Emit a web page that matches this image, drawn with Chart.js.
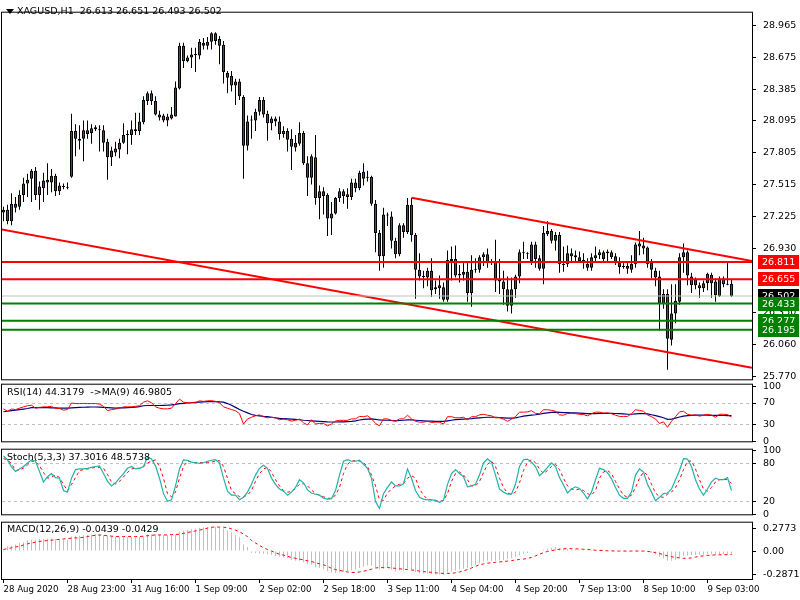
<!DOCTYPE html>
<html>
<head>
<meta charset="utf-8">
<script src="https://cdn.jsdelivr.net/npm/chart.js@4.4.0/dist/chart.umd.min.js"></script>
<style>
body{margin:0;background:#fff;width:800px;height:600px;overflow:hidden;position:relative}
canvas{position:absolute;left:0}
.ttl{position:absolute;left:7px;font:9.5px 'DejaVu Sans',sans-serif;color:#000;white-space:pre;line-height:12px}
.tri{position:absolute;left:6px;top:9px;width:0;height:0;border-left:4px solid transparent;border-right:4px solid transparent;border-top:5px solid #000}
</style>
</head>
<body>
<canvas id="main" width="800" height="392" style="top:0"></canvas>
<canvas id="rsi" width="800" height="82" style="top:372px"></canvas>
<canvas id="stoch" width="800" height="90" style="top:437px"></canvas>
<canvas id="macd" width="800" height="90" style="top:510px"></canvas>
<div class="tri"></div>
<div class="ttl" style="left:17px;top:5px">XAGUSD,H1  26.613 26.651 26.493 26.502</div>
<div class="ttl" style="top:386px">RSI(14) 44.3179  -&gt;MA(9) 46.9805</div>
<div class="ttl" style="top:451px">Stoch(5,3,3) 37.3016 48.5738</div>
<div class="ttl" style="top:523px">MACD(12,26,9) -0.0439 -0.0429</div>
<script>
// XAGUSD H1 candles, 183 bars
const open = [27.261,27.288,27.182,27.305,27.314,27.420,27.526,27.570,27.641,27.420,
27.482,27.561,27.535,27.597,27.455,27.499,27.491,27.588,28.003,27.932,
27.932,28.011,27.985,28.038,28.020,28.011,27.906,27.764,27.808,27.835,
27.897,27.967,27.967,28.003,28.003,28.082,28.276,28.347,28.276,28.153,
28.144,28.100,28.117,28.135,28.391,28.779,28.638,28.673,28.696,28.691,
28.806,28.779,28.815,28.894,28.841,28.788,28.532,28.506,28.417,28.453,
28.312,27.870,28.100,28.100,28.179,28.285,28.161,28.073,28.117,28.091,
27.976,28.003,27.932,27.853,27.888,27.985,27.711,27.579,27.764,27.394,
27.455,27.420,27.208,27.252,27.394,27.455,27.429,27.402,27.535,27.482,
27.632,27.588,27.588,27.341,27.076,26.864,27.235,27.226,27.005,26.882,
27.146,27.085,27.332,27.058,26.741,26.679,26.670,26.732,26.564,26.599,
26.582,26.467,26.820,26.838,26.705,26.696,26.723,26.529,26.741,26.741,
26.855,26.882,26.811,26.811,26.652,26.635,26.564,26.414,26.564,26.679,
26.891,26.891,26.820,26.970,26.846,26.749,27.067,27.093,27.005,27.058,
26.794,26.794,26.891,26.873,26.855,26.829,26.794,26.758,26.846,26.873,
26.899,26.891,26.899,26.864,26.802,26.776,26.776,26.741,26.794,26.952,
26.961,26.943,26.802,26.732,26.679,26.432,26.520,26.105,26.343,26.449,
26.855,26.899,26.679,26.599,26.599,26.573,26.617,26.696,26.635,26.502,
26.661,26.608,26.613];
const high = [27.314,27.332,27.438,27.402,27.464,27.579,27.614,27.658,27.676,27.544,
27.623,27.711,27.658,27.614,27.535,27.526,27.535,28.161,28.064,28.056,
28.100,28.100,28.064,28.056,28.056,28.056,27.932,27.861,27.906,27.932,
28.073,28.011,28.100,28.170,28.170,28.320,28.364,28.373,28.320,28.188,
28.161,28.161,28.223,28.453,28.806,28.806,28.691,28.762,28.762,28.841,
28.850,28.859,28.903,28.903,28.868,28.823,28.550,28.550,28.479,28.479,
28.329,28.144,28.144,28.206,28.312,28.312,28.188,28.135,28.135,28.135,
28.047,28.029,28.020,27.967,28.082,28.003,27.773,27.791,27.967,27.508,
27.491,27.438,27.358,27.402,27.482,27.473,27.482,27.570,27.570,27.641,
27.711,27.641,27.597,27.376,27.102,27.305,27.261,27.270,27.032,27.164,
27.164,27.394,27.394,27.076,26.891,26.732,26.758,26.846,26.643,26.688,
26.626,26.917,26.952,26.961,26.785,26.820,26.802,26.873,26.846,26.873,
26.899,26.935,26.838,27.014,26.838,26.732,26.679,26.670,26.696,26.926,
26.996,26.899,26.996,26.996,26.873,27.138,27.182,27.111,27.085,27.085,
26.952,26.961,26.935,26.917,26.908,26.891,26.846,26.891,26.952,26.926,
26.917,26.926,26.917,26.891,26.855,26.811,26.811,26.873,26.988,27.093,
27.032,26.952,26.838,26.758,26.732,26.564,26.564,26.608,26.608,26.891,
26.979,26.917,26.714,26.670,26.626,26.643,26.714,26.714,26.661,26.679,
26.679,26.811,26.651];
const low = [27.182,27.155,27.146,27.261,27.288,27.358,27.402,27.358,27.376,27.288,
27.358,27.420,27.447,27.411,27.420,27.473,27.473,27.579,27.773,27.835,
27.729,27.932,27.888,28.003,27.817,27.817,27.561,27.685,27.773,27.755,
27.888,27.791,27.879,27.967,27.967,28.064,28.241,28.241,28.144,28.100,
28.082,28.047,28.109,28.135,28.382,28.576,28.629,28.576,28.541,28.656,
28.744,28.744,28.744,28.788,28.612,28.435,28.347,28.364,28.241,28.285,
27.570,27.826,27.932,28.003,28.144,28.126,27.914,28.011,28.047,27.923,
27.941,27.817,27.649,27.817,27.870,27.694,27.411,27.517,27.332,27.200,
27.244,27.049,27.058,27.244,27.358,27.341,27.297,27.376,27.447,27.464,
27.508,27.544,27.323,26.899,26.732,26.758,27.138,26.935,26.846,26.864,
27.032,27.067,26.996,26.476,26.643,26.573,26.590,26.493,26.520,26.476,
26.449,26.449,26.643,26.670,26.626,26.643,26.449,26.405,26.714,26.714,
26.776,26.758,26.785,26.538,26.520,26.423,26.361,26.343,26.485,26.617,
26.838,26.838,26.785,26.758,26.732,26.608,27.049,26.979,26.917,26.714,
26.723,26.767,26.811,26.820,26.802,26.749,26.732,26.732,26.802,26.838,
26.802,26.820,26.838,26.785,26.705,26.749,26.705,26.714,26.758,26.873,
26.882,26.758,26.661,26.590,26.185,26.387,25.831,26.052,26.255,26.423,
26.714,26.599,26.529,26.564,26.485,26.538,26.555,26.485,26.449,26.493,
26.582,26.599,26.493];
const close = [27.288,27.182,27.341,27.341,27.420,27.526,27.561,27.641,27.420,27.499,
27.552,27.535,27.597,27.455,27.508,27.495,27.486,28.003,27.932,27.914,
28.011,27.976,28.029,28.020,28.011,27.897,27.764,27.826,27.844,27.897,
27.967,27.976,28.020,28.020,28.091,28.285,28.347,28.276,28.153,28.126,
28.100,28.135,28.153,28.400,28.779,28.638,28.673,28.700,28.700,28.815,
28.779,28.815,28.894,28.823,28.779,28.541,28.488,28.417,28.453,28.320,
27.870,28.091,28.109,28.179,28.285,28.153,28.073,28.117,28.091,27.976,
28.003,27.923,27.861,27.897,27.985,27.711,27.579,27.773,27.394,27.455,
27.411,27.208,27.252,27.394,27.455,27.411,27.402,27.535,27.482,27.623,
27.570,27.579,27.341,27.076,26.864,27.244,27.244,27.005,26.882,27.146,
27.085,27.332,27.058,26.741,26.679,26.674,26.732,26.555,26.582,26.573,
26.467,26.829,26.838,26.688,26.688,26.723,26.529,26.741,26.745,26.855,
26.882,26.802,26.802,26.643,26.635,26.564,26.414,26.564,26.679,26.899,
26.899,26.886,26.970,26.838,26.749,27.076,27.093,27.005,27.058,26.794,
26.785,26.891,26.864,26.855,26.820,26.802,26.758,26.855,26.873,26.899,
26.838,26.908,26.855,26.802,26.767,26.767,26.749,26.794,26.970,26.979,
26.935,26.794,26.741,26.670,26.432,26.520,26.114,26.343,26.458,26.855,
26.899,26.688,26.599,26.652,26.573,26.617,26.705,26.617,26.511,26.661,
26.608,26.604,26.502];

// indicators
const rsi = [59.4,55,59,58,60.5,63,65,66,60.5,62,
63,63,64,60,60,57,58,70,69,69,
69.4,69,69,69,68,64,56,58,59,60.5,
63,63,63,64,65,71.6,74,70.5,63,60.5,
59.4,59.4,60.5,69,77,71.6,70.5,70.5,70.5,74,
73,74,74.4,73,70.5,63,60.5,58,56,50.5,
31.6,41,44,46.6,48.3,45,43,44,43,39.4,
40.5,39.4,37,38.3,40.5,33.8,30,39.4,31.6,32.7,
32.7,28.3,31.6,37,38.3,38.3,38.3,41,41,45.5,
45,46.6,41,32.7,28.3,41,41,38.3,36.6,41,
41,47.7,41,36.6,35,35,36.6,34.4,35,35,
31.6,45,45,43,43,44,39.4,45,45,48.3,
49.4,47.7,46.6,43,43,40.5,36.6,40.5,45,53.3,
53.3,53.8,56,51,50.5,57.7,57.7,56.6,55,48.3,
47.7,51,51,50.5,49.4,48.9,46.6,50.5,53.3,53.3,
51.6,52,50.5,47.7,45.5,45.5,45.5,50.5,57.7,56.6,
55,48.3,45,41,32.7,35.5,25.5,36.6,45,53.8,
55,49.4,47.7,48.3,46,47.7,49.4,47.7,44,49.4,
49.4,48.9,44.3];
const rsiMa = [54,55,56,57,58,59,60,61.5,61.5,61.5,
61.5,61.5,61.2,61,60.7,60.5,60.5,61,61.5,62,
62.3,62.5,62.7,62.7,62.5,62,61.5,61,60.5,61,
61.3,61.6,62,62.5,63.5,65,65.5,65.5,65.5,65.5,
65.8,66,66.5,67.5,69,69.5,70,70.5,71,71.5,
72,72.5,72.7,72.5,72,71.5,69,66,62,58,
55,52,49,47.5,46.5,45.5,45,44,43,42,
41.5,41,40.5,40,39.4,38.5,38,37.5,37,36.5,
36,35.5,35.3,35.3,35.5,35.5,35.8,36.5,37.5,39,
40,40.5,41,40,39,38.5,38.5,38,37.5,38,
38.5,39,39,38.5,38,37.5,37,36.8,36.6,36.5,
36.5,37.5,38.5,39.5,40,40.5,41,41.5,42.5,43,
43.5,44,44,44,43.5,43,42.5,42.5,43,44.5,
46,47,48,48.5,49.5,51,52,53,53.5,53,
52.5,52.5,52,52,51.5,51,50.5,50.5,50.5,51,
51,51,51,50.8,50.5,50,49.5,49.5,50,50.5,
50.5,50,48.5,47,45,43,40,40.5,42.5,44.5,
46,47,47.5,47.7,47.7,47.7,47.7,47.5,47.5,47.3,
47.2,47,47];
const stochMain = [92,86,75,67.7,71.6,75.5,81,86,83.8,67.7,
51,59.4,64.3,58,57,37.5,35,57,70.6,71.6,
71.6,72.6,74,75.5,76.5,64.3,52,44.8,49.7,57,
64.3,72.6,75.5,71.6,72.6,75.5,90,87.2,76.5,57,
32.6,20.5,22.9,44.8,71.6,86,85.3,82.3,81.4,80.4,
81.4,83.8,85.3,86.2,81.4,57,36.5,30.2,30.2,22.9,
26.8,35,47.3,61.9,72.6,77.5,72.6,57,47.3,40,
36.5,30.2,35,42.4,54.6,49.7,38.5,33.6,31.7,30.2,
25.3,23.9,24.8,37.5,61.9,83.8,86.2,83.8,83.8,85.3,
79,72.6,57,20,9.2,32.6,42.4,51.2,44.8,44.8,
48.2,71.6,57,37.5,26.8,23.9,22.9,22.9,21.9,19,
21.9,47.3,64.3,70.6,64.3,59.4,43.4,44.8,47.3,61.9,
81.4,87.7,82.3,61.9,40,35,31.7,31.7,47.3,75.5,
86.2,87.2,82.3,75.5,60.9,66.8,74.1,81.4,75.5,58,
46.3,33.6,40,43.4,40.9,33.6,24.4,35,54.6,72.6,
70.6,65.8,56,42.4,30.2,25.3,25.3,35,61.9,71.6,
66.8,47.3,35,21.4,26.8,32.6,33.6,40,54.6,69.2,
87.7,87.2,75.5,54.6,40,30.2,40,51.2,57,54.6,
54.6,58,37.3];
const stochSignal = [88,86,80,69,70,73,78,84,83,76.5,
66,57,59,62,58,47,37.5,47,58,69,
70.5,71.6,73,74,74,72.6,63,51,48,52,
59,66,71.6,73,72.6,75,81,84,86,75.5,
57,32.6,27.8,35,57,75.5,84,83,81.4,81.5,
81.5,82,82.3,84,84.8,75.5,57,37.5,32.6,27.8,
27.8,30.2,37.5,52,64.3,71.6,74,66.8,54.6,44.8,
37.5,35,36,40.9,47.3,48.2,44.8,38.5,32.6,30.2,
27.8,25.3,25.3,30.2,42.4,64.3,79,84,84.8,84,
81.4,75.5,62,45,23,22,33.6,40,44.8,47.3,
48.2,57,60.9,57,40,30.2,23.9,22.9,21.9,20.5,
21.9,32.6,52,64.3,66.8,61.9,54.6,44.8,44.8,52,
65.8,79,84,75.5,57,42.4,33.6,31.7,35,49.7,
69.2,82.3,86.2,81.4,71.6,64.3,69.2,75.5,79,70.6,
57,44.8,40,38.5,40,37.5,32.6,30.2,37.5,57,
66.8,69.2,64.3,52,40,30.2,26.8,30.2,42.4,57,
66.8,61.9,47.3,33.6,27.8,26.8,31.7,35,42.4,54.6,
70.6,84,84,71.6,54.6,40,36.5,42.4,51.2,54.6,
55.5,54.6,48.6];
const macdMain = [0.02,0.06,0.065,0.08,0.1,0.11,0.13,0.14,0.14,0.145,
0.15,0.155,0.155,0.15,0.145,0.14,0.14,0.18,0.19,0.19,
0.2,0.2,0.205,0.21,0.21,0.2,0.19,0.185,0.18,0.175,
0.17,0.17,0.17,0.17,0.175,0.185,0.21,0.21,0.21,0.205,
0.2,0.2,0.2,0.21,0.24,0.255,0.26,0.27,0.28,0.29,
0.295,0.296,0.3,0.3,0.29,0.28,0.255,0.23,0.2,0.17,
0.08,0.05,-0.02,-0.025,-0.03,-0.035,-0.04,-0.05,-0.06,-0.07,
-0.08,-0.09,-0.11,-0.12,-0.12,-0.14,-0.16,-0.17,-0.2,-0.21,
-0.225,-0.25,-0.27,-0.275,-0.27,-0.26,-0.25,-0.235,-0.225,-0.21,
-0.195,-0.18,-0.18,-0.2,-0.23,-0.22,-0.21,-0.23,-0.25,-0.24,
-0.24,-0.22,-0.23,-0.26,-0.275,-0.28,-0.28,-0.285,-0.29,-0.29,
-0.296,-0.27,-0.255,-0.24,-0.23,-0.22,-0.21,-0.19,-0.17,-0.15,
-0.13,-0.12,-0.12,-0.12,-0.115,-0.11,-0.1,-0.09,-0.07,-0.05,
-0.035,-0.025,-0.01,-0.005,0,0.015,0.03,0.04,0.05,0.035,
0.03,0.025,0.02,0.02,0.015,0.01,0.005,0.005,0.005,0.005,
0.003,0.005,0.002,0,0,-0.002,-0.003,0,0.005,0.005,
0,-0.01,-0.02,-0.04,-0.07,-0.09,-0.12,-0.12,-0.11,-0.08,
-0.06,-0.055,-0.05,-0.05,-0.045,-0.045,-0.04,-0.04,-0.045,-0.04,
-0.04,-0.04,-0.0439];
const macdSignal = [0.02,0.03,0.04,0.05,0.06,0.075,0.09,0.1,0.11,0.12,
0.125,0.13,0.135,0.14,0.146,0.15,0.155,0.16,0.163,0.166,
0.17,0.18,0.19,0.195,0.2,0.195,0.19,0.185,0.18,0.18,
0.18,0.18,0.18,0.18,0.18,0.185,0.19,0.195,0.2,0.2,
0.2,0.2,0.205,0.205,0.21,0.22,0.23,0.24,0.25,0.26,
0.27,0.285,0.296,0.298,0.298,0.296,0.29,0.275,0.26,0.24,
0.21,0.18,0.13,0.1,0.07,0.04,0.02,0,-0.02,-0.04,
-0.05,-0.065,-0.08,-0.09,-0.1,-0.11,-0.12,-0.13,-0.145,-0.158,
-0.17,-0.19,-0.215,-0.23,-0.24,-0.25,-0.26,-0.265,-0.265,-0.26,
-0.25,-0.24,-0.225,-0.21,-0.205,-0.205,-0.205,-0.21,-0.215,-0.22,
-0.225,-0.23,-0.235,-0.24,-0.25,-0.255,-0.26,-0.265,-0.27,-0.275,
-0.278,-0.278,-0.276,-0.27,-0.26,-0.245,-0.23,-0.21,-0.19,-0.17,
-0.16,-0.15,-0.145,-0.14,-0.135,-0.13,-0.125,-0.12,-0.11,-0.105,
-0.1,-0.09,-0.08,-0.06,-0.04,-0.02,-0.005,0.005,0.015,0.022,
0.028,0.03,0.03,0.028,0.025,0.022,0.02,0.015,0.01,0.008,
0.005,0.003,0.002,0,0,0,0,0,0,0,
0,-0.005,-0.01,-0.02,-0.03,-0.045,-0.06,-0.07,-0.08,-0.085,
-0.09,-0.09,-0.085,-0.075,-0.065,-0.06,-0.055,-0.05,-0.048,-0.046,
-0.045,-0.044,-0.0429];

// levels and drawn objects
const redLevels = [26.811, 26.655];
const greenLevels = [26.433, 26.277, 26.195];
const bidPrice = 26.502;
const upperTrend = [[102, 27.396], [187.1, 26.820]];
const lowerTrend = [[-0.9, 27.111], [187.1, 25.850]];

// axes
const xTickLabels = ['28 Aug 2020','28 Aug 23:00','31 Aug 16:00','1 Sep 09:00','2 Sep 02:00','2 Sep 18:00',
  '3 Sep 11:00','4 Sep 04:00','4 Sep 20:00','7 Sep 13:00','8 Sep 10:00','9 Sep 03:00'];
const priceTicks = [25.770, 26.060, 26.350, 26.930, 27.225, 27.515, 27.805, 28.095, 28.385, 28.675, 28.965];
const rsiTicks = [0, 30, 70, 100];
const stochTicks = [0, 20, 80, 100];
const macdTicks = [-0.2871, 0, 0.2773];

const X_MIN = -0.375, X_MAX = 187.125;
const font = {family: "'DejaVu Sans', sans-serif", size: 9.5};
const xFont = {family: "'DejaVu Sans', sans-serif", size: 8.6};
const GREEN = '#008000', RED = '#ff0000';

const frame = {
  id: 'frame',
  afterDraw(chart) {
    const {ctx, chartArea: a} = chart;
    ctx.save();
    ctx.strokeStyle = '#000';
    ctx.lineWidth = 1;
    ctx.strokeRect(a.left - 0.5, a.top - 0.5, a.right - a.left + 1, a.bottom - a.top + 1);
    ctx.restore();
  }
};

const priceTags = [{v: bidPrice, c: '#000'}]
  .concat(redLevels.map(v => ({v, c: RED})))
  .concat(greenLevels.map(v => ({v, c: GREEN})));

const tags = {
  id: 'tags',
  afterDraw(chart) {
    const {ctx, chartArea: a} = chart;
    const s = chart.scales.y;
    ctx.save();
    ctx.font = font.size + 'px ' + font.family;
    ctx.textBaseline = 'middle';
    priceTags.forEach(t => {
      const py = Math.round(s.getPixelForValue(t.v));
      ctx.fillStyle = t.c;
      ctx.fillRect(a.right + 6, py - 7, 41, 14);
      ctx.fillStyle = '#fff';
      ctx.fillText(t.v.toFixed(3), a.right + 10, py + 0.5);
    });
    ctx.restore();
  }
};

function xAxis(show) {
  const ax = {type: 'linear', min: X_MIN, max: X_MAX, offset: false, display: show};
  if (!show) return ax;
  return Object.assign(ax, {
    afterBuildTicks: s => { s.ticks = xTickLabels.map((t, k) => ({value: k * 16})); },
    afterFit: s => { s.height = 21; },
    grid: {drawOnChartArea: false, offset: false, tickLength: 4, color: '#000'},
    border: {display: false},
    ticks: {align: 'start', padding: 2, maxRotation: 0, autoSkip: false, color: '#000', font: xFont,
      callback: v => xTickLabels[v / 16]}
  });
}

function yAxis(min, max, tickVals, fmt, levels) {
  return {
    position: 'right', min, max,
    afterBuildTicks: s => { s.ticks = tickVals.map(v => ({value: v})); },
    afterFit: s => { s.width = 48; },
    grid: {
      drawOnChartArea: !!levels, tickLength: 4, tickColor: '#000',
      color: c => (levels && c.tick && levels.includes(c.tick.value)) ? '#c0c0c0' : 'rgba(0,0,0,0)'
    },
    border: {display: false, dash: [3, 3]},
    ticks: {padding: 7, color: '#000', font, autoSkip: false, callback: fmt}
  };
}

const baseOpts = (pad) => ({
  responsive: false, animation: false, devicePixelRatio: 1, events: [],
  layout: {padding: pad, autoPadding: false},
  plugins: {legend: {display: false}, tooltip: {enabled: false}}
});

const hLine = (v, color, w) => ({
  type: 'line', data: [{x: X_MIN, y: v}, {x: X_MAX, y: v}],
  borderColor: color, borderWidth: w, pointRadius: 0, order: 0
});
const segLine = (pts, color, w) => ({
  type: 'line', data: pts.map(p => ({x: p[0], y: p[1]})),
  borderColor: color, borderWidth: w, pointRadius: 0, order: 0
});

// main price panel
new Chart(document.getElementById('main'), {
  type: 'bar',
  data: {
    datasets: [
      {data: high.map((h, i) => ({x: i, y: [low[i], h]})), backgroundColor: '#000',
        barThickness: 1, grouped: false, inflateAmount: 0, order: 3},
      {data: open.map((o, i) => ({x: i, y: [o, close[i]]})),
        backgroundColor: open.map((o, i) => close[i] >= o ? GREEN : RED),
        borderColor: '#000', borderWidth: 1, borderSkipped: false, minBarLength: 1,
        barThickness: 3, grouped: false, inflateAmount: 0, order: 2},
      hLine(bidPrice, '#c0c0c0', 1),
      ...redLevels.map(v => hLine(v, RED, 2)),
      ...greenLevels.map(v => hLine(v, GREEN, 2)),
      segLine(upperTrend, RED, 2),
      segLine(lowerTrend, RED, 2)
    ]
  },
  options: Object.assign(baseOpts({top: 2, left: 2, bottom: 12, right: 0}), {
    scales: {
      x: xAxis(false),
      y: yAxis(25.744, 29.080, priceTicks, v => v.toFixed(3), null)
    }
  }),
  plugins: [frame, tags]
});

// RSI panel
new Chart(document.getElementById('rsi'), {
  type: 'line',
  data: {
    datasets: [
      {data: rsi.map((v, i) => ({x: i, y: v})), borderColor: RED, borderWidth: 1, pointRadius: 0},
      {data: rsiMa.map((v, i) => ({x: i, y: v})), borderColor: '#000080', borderWidth: 1.2, pointRadius: 0}
    ]
  },
  options: Object.assign(baseOpts({top: 10, left: 2, bottom: 10, right: 0}), {
    scales: {x: xAxis(false), y: yAxis(0, 103.5, rsiTicks, v => String(v), [30, 70])}
  }),
  plugins: [frame]
});

// Stochastic panel
new Chart(document.getElementById('stoch'), {
  type: 'line',
  data: {
    datasets: [
      {data: stochMain.map((v, i) => ({x: i, y: v})), borderColor: '#20b2aa', borderWidth: 1.2, pointRadius: 0},
      {data: stochSignal.map((v, i) => ({x: i, y: v})), borderColor: RED, borderWidth: 1, borderDash: [3, 3], pointRadius: 0}
    ]
  },
  options: Object.assign(baseOpts({top: 10, left: 2, bottom: 10, right: 0}), {
    scales: {x: xAxis(false), y: yAxis(0, 102, stochTicks, v => String(v), [20, 80])}
  }),
  plugins: [frame]
});

// MACD panel
new Chart(document.getElementById('macd'), {
  type: 'bar',
  data: {
    datasets: [
      {data: macdMain.map((v, i) => ({x: i, y: v})), backgroundColor: '#c0c0c0',
        barThickness: 1, grouped: false, inflateAmount: 0, order: 2},
      {type: 'line', data: macdSignal.map((v, i) => ({x: i, y: v})), borderColor: RED,
        borderWidth: 1, borderDash: [3, 3], pointRadius: 0, order: 1}
    ]
  },
  options: Object.assign(baseOpts({top: 10, left: 2, bottom: 0, right: 0}), {
    scales: {
      x: xAxis(true),
      y: yAxis(-0.347, 0.352, macdTicks, v => v === 0 ? '0.00' : v.toFixed(4), null)
    }
  }),
  plugins: [frame]
});
</script>
</body>
</html>
